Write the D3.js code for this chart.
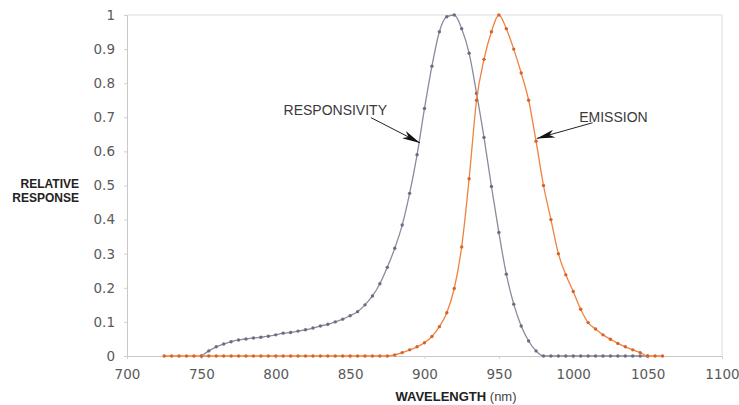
<!DOCTYPE html>
<html>
<head>
<meta charset="utf-8">
<script src="https://cdn.jsdelivr.net/npm/d3@7"></script>
<style>
  html, body { margin: 0; padding: 0; background: #fff; }
  svg { display: block; }
</style>
</head>
<body>
<div id="chart"></div>
<script>
'use strict';

// wavelength grid: one reading every 5 nm
var step = 5;
var respStart = 750;
var responsivity = [
  0, 0.015, 0.027, 0.035, 0.042, 0.047, 0.05, 0.053, 0.055, 0.058,
  0.062, 0.067, 0.069, 0.073, 0.077, 0.082, 0.088, 0.093, 0.1, 0.108,
  0.118, 0.13, 0.15, 0.176, 0.212, 0.26, 0.316, 0.384, 0.477, 0.59,
  0.726, 0.85, 0.951, 0.995, 1.0, 0.96, 0.888, 0.77, 0.641, 0.497,
  0.362, 0.24, 0.152, 0.088, 0.044, 0.015,
  0, 0, 0, 0, 0, 0, 0, 0, 0, 0, 0, 0, 0, 0, 0
];
var emisStart = 725;
var emission = [
  0, 0, 0, 0, 0, 0, 0, 0, 0, 0, 0, 0, 0, 0, 0, 0,
  0, 0, 0, 0, 0, 0, 0, 0, 0, 0, 0, 0, 0, 0, 0,
  0.003, 0.01, 0.018, 0.027, 0.039, 0.057, 0.086, 0.127, 0.198, 0.32,
  0.52, 0.75, 0.87, 0.951, 1.0, 0.96, 0.9, 0.83, 0.75, 0.63,
  0.5, 0.4, 0.3, 0.238, 0.189, 0.137, 0.098, 0.079, 0.062, 0.049,
  0.037, 0.027, 0.018, 0.01, 0, 0, 0
];

var xTicks = [700, 750, 800, 850, 900, 950, 1000, 1050, 1100];
var yTicks = [0, 0.1, 0.2, 0.3, 0.4, 0.5, 0.6, 0.7, 0.8, 0.9, 1];

// callouts, in data units: label anchor, arrow tail, arrow tip
var callouts = [
  { text: 'RESPONSIVITY', lx: 840, ly: 0.706, anchor: 'middle', x1: 864, y1: 0.699, x2: 897, y2: 0.625 },
  { text: 'EMISSION', lx: 1004, ly: 0.686, anchor: 'start', x1: 1013, y1: 0.684, x2: 975.5, y2: 0.638 }
];

function toPoints(start, values) {
  return values.map(function (v, i) { return { w: start + i * step, v: v }; });
}

var width = 739, height = 405;
var margin = { top: 15, right: 17, bottom: 49, left: 127 };

var x = d3.scaleLinear().domain([700, 1100]).range([margin.left, width - margin.right]);
var y = d3.scaleLinear().domain([0, 1]).range([height - margin.bottom, margin.top]);

var svg = d3.select('#chart').append('svg')
  .attr('width', width)
  .attr('height', height);

svg.append('defs').append('marker')
  .attr('id', 'arrow')
  .attr('viewBox', '0 0 18 8')
  .attr('refX', 18)
  .attr('refY', 4)
  .attr('markerWidth', 18)
  .attr('markerHeight', 8)
  .attr('markerUnits', 'userSpaceOnUse')
  .attr('orient', 'auto')
  .append('path')
  .attr('d', 'M0,0 L18,4 L0,8 L5,4 Z')
  .attr('fill', '#111');

// frame: top and right edges
svg.append('path')
  .attr('d', 'M' + x(700) + ',' + y(1) + 'H' + x(1100) + 'V' + y(0))
  .attr('fill', 'none')
  .attr('stroke', '#dcdcdc')
  .attr('stroke-width', 1);

var xAxis = svg.append('g')
  .attr('transform', 'translate(0,' + y(0) + ')')
  .call(d3.axisBottom(x).tickValues(xTicks).tickSize(3).tickPadding(10).tickFormat(d3.format('d')));

var yAxis = svg.append('g')
  .attr('transform', 'translate(' + x(700) + ',0)')
  .call(d3.axisLeft(y).tickValues(yTicks).tickSize(3).tickPadding(9).tickFormat(function (d) { return d3.format('')(d); }));

[xAxis, yAxis].forEach(function (ax) {
  ax.select('.domain').attr('stroke', '#c8c8c8');
  ax.selectAll('.tick line').attr('stroke', '#d0d0d0');
  ax.selectAll('.tick text')
    .attr('fill', '#5a5a5a')
    .attr('font-family', 'DejaVu Sans, sans-serif')
    .attr('font-size', 13.5);
});

var series = [
  { data: toPoints(respStart, responsivity), line: '#8a8b9c', dot: '#6c6d82' },
  { data: toPoints(emisStart, emission), line: '#ef8240', dot: '#d8632a' }
];

var line = d3.line()
  .x(function (d) { return x(d.w); })
  .y(function (d) { return y(d.v); })
  .curve(d3.curveMonotoneX);

series.forEach(function (s) {
  svg.append('path')
    .datum(s.data)
    .attr('fill', 'none')
    .attr('stroke', s.line)
    .attr('stroke-width', 1.3)
    .attr('d', line);

  svg.append('g')
    .selectAll('circle')
    .data(s.data)
    .join('circle')
    .attr('cx', function (d) { return x(d.w); })
    .attr('cy', function (d) { return y(d.v); })
    .attr('r', 1.7)
    .attr('fill', s.dot);
});

callouts.forEach(function (c) {
  svg.append('text')
    .attr('x', x(c.lx))
    .attr('y', y(c.ly))
    .attr('text-anchor', c.anchor)
    .attr('font-family', 'Liberation Sans, Arial, sans-serif')
    .attr('font-size', 14)
    .attr('fill', '#3a3a3a')
    .text(c.text);

  svg.append('line')
    .attr('x1', x(c.x1)).attr('y1', y(c.y1))
    .attr('x2', x(c.x2)).attr('y2', y(c.y2))
    .attr('stroke', '#222')
    .attr('stroke-width', 1)
    .attr('marker-end', 'url(#arrow)');
});

// axis titles
var yTitle = svg.append('text')
  .attr('text-anchor', 'end')
  .attr('font-family', 'Liberation Sans, Arial, sans-serif')
  .attr('font-weight', 'bold')
  .attr('font-size', 12)
  .attr('fill', '#222');
yTitle.append('tspan').attr('x', 79).attr('y', 188).text('RELATIVE');
yTitle.append('tspan').attr('x', 79).attr('y', 202).text('RESPONSE');

var xTitle = svg.append('text')
  .attr('x', 456)
  .attr('y', 401)
  .attr('text-anchor', 'middle')
  .attr('font-family', 'Liberation Sans, Arial, sans-serif')
  .attr('font-size', 13)
  .attr('fill', '#222');
xTitle.append('tspan').attr('font-weight', 'bold').text('WAVELENGTH');
xTitle.append('tspan').attr('fill', '#444').text(' (nm)');
</script>
</body>
</html>
